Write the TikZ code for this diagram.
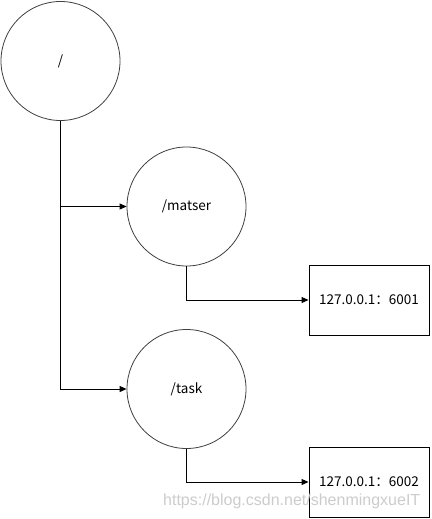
\documentclass[tikz,border=0pt]{standalone}
\usepackage{fontspec}
\setmainfont{Noto Sans CJK SC}
\newfontfamily\wmfont{Liberation Sans}
\usetikzlibrary{arrows.meta}
\tikzset{
  circ/.style={circle, draw=black!75, line width=0.8pt, minimum size=119pt, inner sep=0pt, font=\fontsize{13.5}{15}\selectfont},
  addrbox/.style={rectangle, draw=black, line width=0.9pt, minimum width=120pt, minimum height=70pt, inner sep=0pt, font=\fontsize{13.5}{15}\selectfont},
  arr/.style={draw=black, line width=0.9pt, -{Triangle[length=7pt,width=6pt]}},
  wm/.style={text=black!22, font=\wmfont\fontsize{16}{18}\selectfont, inner sep=0pt, opacity=0.9}
}
\begin{document}
\begin{tikzpicture}[x=1pt,y=-1pt]
\useasboundingbox[fill=white] (0,0) rectangle (431,519);
\node[circ] (root) at (60.5,61) {/};
\node[circ] (matser) at (186.5,206.5) {/matser};
\node[circ] (task) at (186.5,389) {/task};
\node[addrbox] (b1) at (369,300) {127.0.0.1：6001};
\node[addrbox] (b2) at (369,482) {127.0.0.1：6002};
\draw[arr] (root.south) |- (matser.west);
\draw[arr] (root.south) |- (task.west);
\draw[arr] (matser.south) |- (b1.west);
\draw[arr] (task.south) |- (b2.west);
\node[wm, anchor=base west] (wmark) at (163,505) {https://blog.csdn.net/shenmingxueIT};
\end{tikzpicture}
\end{document}
